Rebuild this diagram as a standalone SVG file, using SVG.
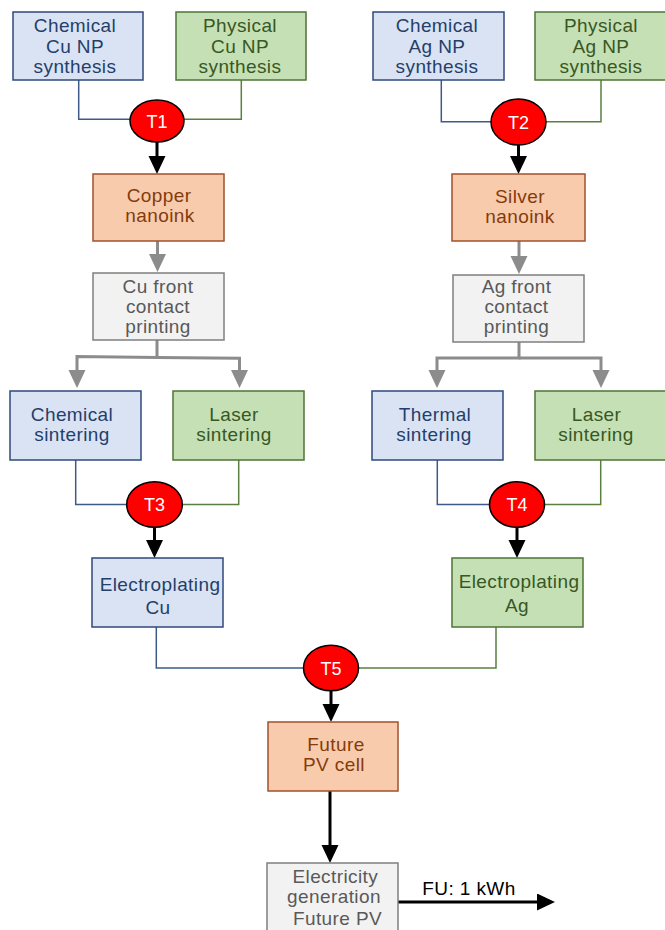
<svg xmlns="http://www.w3.org/2000/svg" width="665" height="930" viewBox="0 0 665 930">
<style>
  text { font-family: "Liberation Sans", Arial, sans-serif; font-size: 19px; text-anchor: middle; letter-spacing: 0.4px; }
  .blue rect { fill: #dae3f3; stroke: #2f4a7c; stroke-width: 1.5; }
  .blue text { fill: #243f6b; }
  .green rect { fill: #c5e0b4; stroke: #4f7436; stroke-width: 1.5; }
  .green text { fill: #385723; }
  .orange rect { fill: #f8cbad; stroke: #a0522d; stroke-width: 1.5; }
  .orange text { fill: #843c0c; }
  .gray rect { fill: #f2f2f2; stroke: #7f7f7f; stroke-width: 1.5; }
  .gray text { fill: #595959; }
  .t ellipse { fill: #ff0000; stroke: #000; stroke-width: 1.5; }
  .t text { fill: #fff; font-size: 18px; letter-spacing: 0; }
  .lb { fill: none; stroke: #3e5a8a; stroke-width: 1.5; }
  .lg { fill: none; stroke: #5a8040; stroke-width: 1.5; }
  .ak { fill: none; stroke: #000; stroke-width: 3; marker-end: url(#ak); }
  .ag { fill: none; stroke: #8c8c8c; stroke-width: 3; marker-end: url(#ag); }
  .fu { fill: #000; letter-spacing: 0.4px; }
</style>
<defs>
  <marker id="ak" markerUnits="userSpaceOnUse" markerWidth="18" markerHeight="18" refX="0" refY="8.5" orient="auto">
    <path d="M0,0 L18,8.5 L0,17 z" fill="#000"/>
  </marker>
  <marker id="ag" markerUnits="userSpaceOnUse" markerWidth="18" markerHeight="18" refX="0" refY="8.5" orient="auto">
    <path d="M0,0 L18,8.5 L0,17 z" fill="#8c8c8c"/>
  </marker>
</defs>

<g id="connectors">
  <path class="lb" d="M78.7,80 V119.3 H130"/>
  <path class="lg" d="M241.3,80 V119.3 H184"/>
  <path class="lb" d="M441.3,80 V121.7 H491"/>
  <path class="lg" d="M601,80 V121.7 H546"/>
  <path class="ak" d="M157,142 V156"/>
  <path class="ak" d="M518.5,145 V156"/>
  <path class="ag" d="M157.5,241 V254"/>
  <path class="ag" d="M519,241 V256"/>
  <path class="ag" d="M157,340 V357.5 L77,356.5 V370"/>
  <path class="ag" d="M157,357.5 L239.5,358.3 V370"/>
  <path class="ag" d="M519,342 V358 H437 V370"/>
  <path class="ag" d="M519,358 H601 V370"/>
  <path class="lb" d="M75.7,460 V504.5 H126.7"/>
  <path class="lg" d="M238.7,460 V504.5 H182.3"/>
  <path class="lb" d="M437.3,460 V504.5 H489.3"/>
  <path class="lg" d="M600.7,460 V504.5 H544.3"/>
  <path class="ak" d="M154.5,527 V540"/>
  <path class="ak" d="M517,527 V540"/>
  <path class="lb" d="M156.3,627 V668 H303.5"/>
  <path class="lg" d="M496,627 V668 H358.5"/>
  <path class="ak" d="M331,691 V704"/>
  <path class="ak" d="M330,791 V845"/>
  <path class="ak" d="M398,902 H537"/>
  <text class="fu" x="469" y="895">FU: 1 kWh</text>
</g>

<g id="chem-cu" class="blue">
  <rect x="13" y="12" width="130" height="68"/>
  <text x="75" y="32">Chemical</text><text x="75" y="52.5">Cu NP</text><text x="75" y="72.5">synthesis</text>
</g>
<g id="phys-cu" class="green">
  <rect x="176" y="12" width="130" height="68"/>
  <text x="240" y="32">Physical</text><text x="240" y="52.5">Cu NP</text><text x="240" y="72.5">synthesis</text>
</g>
<g id="chem-ag" class="blue">
  <rect x="373" y="12" width="131" height="68"/>
  <text x="437" y="32">Chemical</text><text x="437" y="52.5">Ag NP</text><text x="437" y="72.5">synthesis</text>
</g>
<g id="phys-ag" class="green">
  <rect x="535" y="12" width="131" height="68"/>
  <text x="601" y="32">Physical</text><text x="601" y="52.5">Ag NP</text><text x="601" y="72.5">synthesis</text>
</g>

<g id="t1" class="t"><ellipse cx="157" cy="121" rx="27" ry="21"/><text x="157" y="127.5">T1</text></g>
<g id="t2" class="t"><ellipse cx="518.5" cy="122" rx="27.5" ry="23"/><text x="518.5" y="128.5">T2</text></g>

<g id="copper-ink" class="orange">
  <rect x="93" y="174" width="131" height="67"/>
  <text x="159" y="201.5">Copper</text><text x="160" y="221.5">nanoink</text>
</g>
<g id="silver-ink" class="orange">
  <rect x="452" y="174" width="133" height="67"/>
  <text x="520" y="203">Silver</text><text x="520" y="223">nanoink</text>
</g>

<g id="cu-print" class="gray">
  <rect x="93" y="273" width="131" height="67"/>
  <text x="158" y="293.3">Cu front</text><text x="158" y="313.3">contact</text><text x="158" y="333.3">printing</text>
</g>
<g id="ag-print" class="gray">
  <rect x="453" y="275" width="131" height="67"/>
  <text x="516.5" y="293.3">Ag front</text><text x="516.5" y="313.3">contact</text><text x="516.5" y="333.3">printing</text>
</g>

<g id="chem-sint" class="blue">
  <rect x="10" y="391" width="131" height="69"/>
  <text x="72" y="420.7">Chemical</text><text x="72" y="441">sintering</text>
</g>
<g id="laser-sint-cu" class="green">
  <rect x="173" y="391" width="131" height="69"/>
  <text x="234" y="420.7">Laser</text><text x="234" y="441">sintering</text>
</g>
<g id="therm-sint" class="blue">
  <rect x="372" y="391" width="131" height="69"/>
  <text x="435" y="420.7">Thermal</text><text x="434" y="441">sintering</text>
</g>
<g id="laser-sint-ag" class="green">
  <rect x="535" y="391" width="131" height="69"/>
  <text x="596.5" y="420.7">Laser</text><text x="596" y="441">sintering</text>
</g>

<g id="t3" class="t"><ellipse cx="154.5" cy="504.5" rx="27.8" ry="22.8"/><text x="154.5" y="511">T3</text></g>
<g id="t4" class="t"><ellipse cx="517" cy="504.5" rx="27.5" ry="22.8"/><text x="517" y="511">T4</text></g>

<g id="ep-cu" class="blue">
  <rect x="92" y="558" width="131" height="69"/>
  <text x="160" y="591">Electroplating</text><text x="158" y="614.3">Cu</text>
</g>
<g id="ep-ag" class="green">
  <rect x="452" y="558" width="131" height="69"/>
  <text x="519" y="588">Electroplating</text><text x="517" y="612.3">Ag</text>
</g>

<g id="t5" class="t"><ellipse cx="331" cy="668" rx="27.5" ry="22.8"/><text x="331" y="675">T5</text></g>

<g id="future-pv" class="orange">
  <rect x="268" y="722" width="130" height="69"/>
  <text x="336" y="751">Future</text><text x="334" y="771">PV cell</text>
</g>
<g id="electricity" class="gray">
  <rect x="267" y="863" width="131" height="80"/>
  <text x="335.3" y="882.7">Electricity</text><text x="334" y="902.7">generation</text><text x="337.5" y="925">Future PV</text>
</g>
</svg>
